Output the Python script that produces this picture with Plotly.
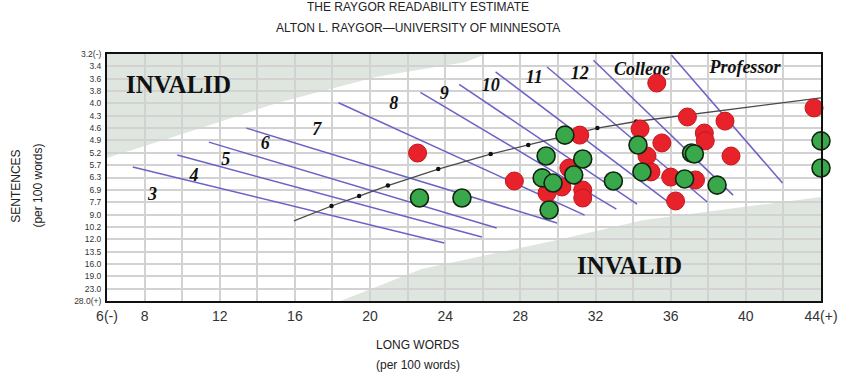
import numpy as np
import plotly.graph_objects as go

# ---------------- data ----------------
sentence_ticks = [3.2, 3.4, 3.6, 3.8, 4.0, 4.3, 4.6, 4.9, 5.2, 5.7, 6.3, 6.9, 7.7,
                  9.0, 10.2, 12.0, 13.5, 16.0, 19.0, 23.0, 28.0]
sentence_labels = ["3.2(-)", "3.4", "3.6", "3.8", "4.0", "4.3", "4.6", "4.9", "5.2",
                   "5.7", "6.3", "6.9", "7.7", "9.0", "10.2", "12.0", "13.5", "16.0",
                   "19.0", "23.0", "28.0(+)"]
long_word_ticks = [6, 8, 12, 16, 20, 24, 28, 32, 36, 40, 44]
long_word_labels = ["6(-)", "8", "12", "16", "20", "24", "28", "32", "36", "40", "44(+)"]

# grade-level boundary lines (long words, sentences)
grade_line_start_x = [7.37, 9.74, 11.42, 13.42, 18.32, 22.68, 24.74, 26.68, 29.42, 31.89, 36.05]
grade_line_start_s = [5.79, 5.29, 4.94, 4.60, 3.99, 3.82, 3.69, 3.49, 3.41, 3.30, 3.22]
grade_line_end_x = [23.95, 25.95, 26.74, 29.95, 31.42, 33.11, 34.21, 35.79, 37.95, 39.32, 41.95]
grade_line_end_s = [12.45, 11.68, 10.36, 9.82, 9.05, 8.42, 7.89, 7.62, 7.69, 7.24, 6.57]

grade_labels = ["3", "4", "5", "6", "7", "8", "9", "10", "11", "12", "College", "Professor"]
grade_label_x = [8.42, 10.63, 12.32, 14.42, 17.16, 21.26, 23.95, 26.42, 28.74, 31.16, 34.47, 39.95]
grade_label_s = [7.24, 6.23, 5.53, 5.01, 4.67, 4.02, 3.85, 3.72, 3.60, 3.54, 3.46, 3.43]

# central curve and its dots
curve_x = [15.95, 17.95, 19.42, 20.95, 23.63, 26.42, 28.42, 32.10, 34.16, 44.0]
curve_s = [9.62, 8.10, 7.30, 6.69, 5.89, 5.25, 5.01, 4.60, 4.44, 3.91]
curve_dot_x = [17.95, 19.42, 20.95, 23.63, 26.42, 28.42, 32.10, 34.16]
curve_dot_s = [8.10, 7.30, 6.69, 5.89, 5.25, 5.01, 4.60, 4.44]

# invalid regions boundaries
invalid_upper_x = [6.0, 6.0, 10.63, 15.10, 20.37, 25.10, 26.16]
invalid_upper_s = [3.2, 5.41, 4.65, 3.99, 3.57, 3.33, 3.2]
invalid_lower_x = [18.42, 22.74, 29.95, 34.58, 44.0, 44.0]
invalid_lower_s = [28.0, 17.23, 12.09, 9.53, 7.36, 28.0]

# sample points
red_x = [22.53, 31.16, 27.68, 30.58, 30.21, 29.42, 31.32, 31.32, 34.37, 35.26, 36.89,
         38.89, 35.53, 37.79, 37.84, 34.74, 39.21, 34.95, 36.00, 37.32, 36.26, 43.63]
red_s = [5.21, 4.77, 6.47, 5.84, 6.76, 7.11, 6.91, 7.43, 4.62, 3.67, 4.33,
         4.43, 4.96, 4.72, 4.91, 5.33, 5.33, 6.03, 6.28, 6.42, 7.62, 4.11]
green_x = [22.63, 24.89, 30.37, 29.37, 31.32, 29.16, 30.84, 29.74, 29.53, 32.95, 34.26,
           37.11, 37.26, 34.47, 36.74, 38.47, 44.0, 44.0]
green_s = [7.43, 7.43, 4.77, 5.33, 5.45, 6.32, 6.18, 6.57, 8.52, 6.47, 5.01,
           5.21, 5.25, 6.03, 6.37, 6.67, 4.91, 5.84]

# ---------------- helpers ----------------
rows = np.arange(len(sentence_ticks))


def row(s):
    return np.interp(np.asarray(s, dtype=float), sentence_ticks, rows)


def path(xs, ss):
    ys = row(ss)
    pts = [f"{x},{y}" for x, y in zip(xs, ys)]
    return "M " + " L ".join(pts) + " Z"


fig = go.Figure()

# grade lines
gx, gy = [], []
for x0, s0, x1, s1 in zip(grade_line_start_x, grade_line_start_s, grade_line_end_x, grade_line_end_s):
    gx += [x0, x1, None]
    gy += [float(row(s0)), float(row(s1)), None]
fig.add_trace(go.Scatter(x=gx, y=gy, mode="lines",
                         line=dict(color="#6b62c6", width=1.5), hoverinfo="skip"))

# curve
fig.add_trace(go.Scatter(x=curve_x, y=row(curve_s), mode="lines",
                         line=dict(color="#4a4a4a", width=1.3), hoverinfo="skip"))
fig.add_trace(go.Scatter(x=curve_dot_x, y=row(curve_dot_s), mode="markers",
                         marker=dict(color="#111", size=4.5), hoverinfo="skip"))

# grade labels
fig.add_trace(go.Scatter(x=grade_label_x, y=row(grade_label_s), mode="text",
                         text=grade_labels,
                         textfont=dict(family="Liberation Serif, Times New Roman, serif",
                                       size=18, color="#111", weight="bold", style="italic"),
                         hoverinfo="skip"))

# points
fig.add_trace(go.Scatter(x=red_x, y=row(red_s), mode="markers",
                         marker=dict(color="#e8222b", size=18,
                                     line=dict(color="#c4161e", width=1)),
                         cliponaxis=False, hoverinfo="skip"))
fig.add_trace(go.Scatter(x=green_x, y=row(green_s), mode="markers",
                         marker=dict(color="#38a84a", size=18,
                                     line=dict(color="#102410", width=1.6)),
                         cliponaxis=False, hoverinfo="skip"))

shade = "#dfe6df"
fig.add_shape(type="path", path=path(invalid_upper_x, invalid_upper_s), xref="x", yref="y",
              fillcolor=shade, line=dict(width=0), layer="below")
fig.add_shape(type="path", path=path(invalid_lower_x, invalid_lower_s), xref="x", yref="y",
              fillcolor=shade, line=dict(width=0), layer="below")

serif_bold = dict(family="Liberation Serif, Times New Roman, serif", size=25, color="#111",
                  weight="bold")
fig.add_annotation(x=9.8, y=float(row(3.7)), text="INVALID", showarrow=False, font=serif_bold,
                   xref="x", yref="y", xanchor="center", yanchor="middle")
fig.add_annotation(x=33.8, y=float(row(16.3)), text="INVALID", showarrow=False, font=serif_bold,
                   xref="x", yref="y", xanchor="center", yanchor="middle")

sans = "Liberation Sans, Arial, sans-serif"
title_font = dict(family=sans, size=12, color="#222")
common = dict(xref="paper", yref="paper", showarrow=False, xanchor="center", yanchor="middle")
fig.add_annotation(x=0.4355, y=1.19, text="THE RAYGOR READABILITY ESTIMATE", font=title_font, **common)
fig.add_annotation(x=0.4355, y=1.105, text="ALTON L. RAYGOR\u2014UNIVERSITY OF MINNESOTA",
                   font=title_font, **common)
axis_font = dict(family=sans, size=12, color="#222")
fig.add_annotation(x=0.4355, y=-0.178, text="LONG WORDS", font=axis_font, **common)
fig.add_annotation(x=0.4355, y=-0.259, text="(per 100 words)", font=axis_font, **common)
fig.add_annotation(x=-0.1276, y=0.466, text="SENTENCES", font=axis_font, textangle=-90, **common)
fig.add_annotation(x=-0.0971, y=0.466, text="(per 100 words)", font=axis_font, textangle=-90,
                   **common)

fig.update_layout(
    width=850, height=375,
    margin=dict(l=107, r=22, t=54, b=74),
    paper_bgcolor="white", plot_bgcolor="white",
    showlegend=False,
    xaxis=dict(range=[6, 44], tickvals=long_word_ticks, ticktext=long_word_labels,
               showgrid=False, zeroline=False,
               minor=dict(dtick=2, tick0=0, showgrid=True, gridcolor="#d2d2d2", gridwidth=1.5),
               showline=True, linecolor="#111", linewidth=2, mirror=True,
               tickfont=dict(family=sans, size=14, color="#333"), ticklabelstandoff=1),
    yaxis=dict(range=[20, 0], tickvals=list(rows), ticktext=sentence_labels,
               showgrid=True, gridcolor="#d2d2d2", gridwidth=1.5, zeroline=False,
               showline=True, linecolor="#111", linewidth=2, mirror=True,
               tickfont=dict(family=sans, size=8.5, color="#333"), ticklabelstandoff=2),
)

fig.write_html("out.html")
